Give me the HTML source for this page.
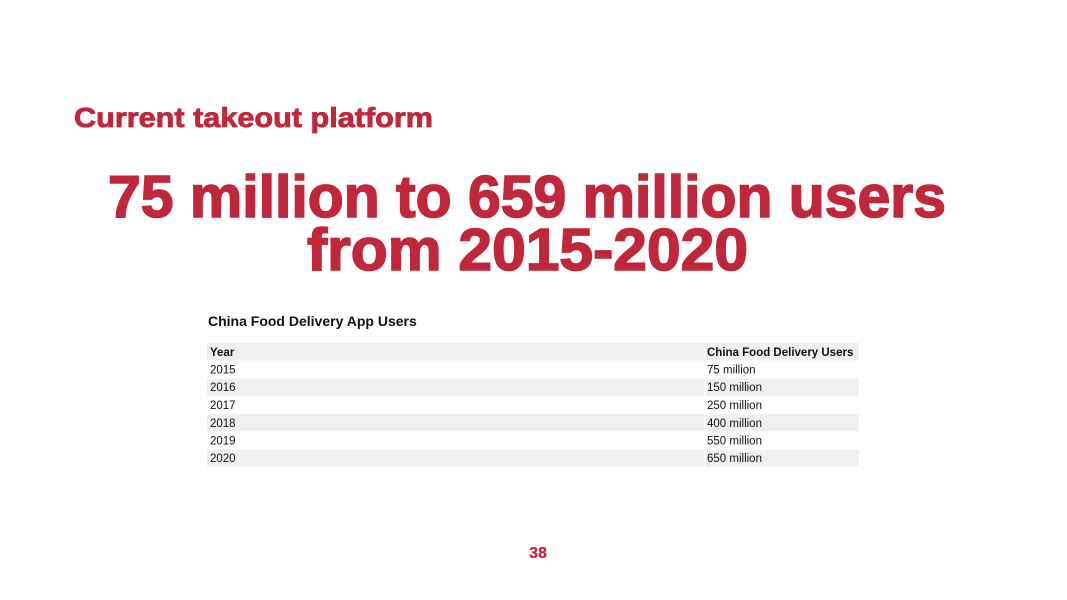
<!DOCTYPE html>
<html><head><meta charset="utf-8"><style>
body{margin:0;width:1067px;height:600px;background:#fff;overflow:hidden;font-family:"Liberation Sans",sans-serif}
</style></head><body>
<svg width="1067" height="600" xmlns="http://www.w3.org/2000/svg" style="position:absolute;left:0;top:0">
<g fill="#c1273b" stroke="#c1273b" font-family="Liberation Sans, sans-serif" font-weight="bold">
<text x="74" y="127" font-size="28" stroke-width="0.8" textLength="359" lengthAdjust="spacingAndGlyphs">Current takeout platform</text>
<text x="108" y="217" font-size="59" stroke-width="1.6" textLength="838" lengthAdjust="spacingAndGlyphs">75 million to 659 million users</text>
<text x="307" y="270" font-size="59" stroke-width="1.6" textLength="441" lengthAdjust="spacingAndGlyphs">from 2015-2020</text>
<text x="538" y="558" font-size="16" stroke-width="0.3" text-anchor="middle">38</text>
</g>
<g fill="#f0f0f0">
<rect x="207" y="343" width="652" height="17.5"/>
<rect x="207" y="378.5" width="652" height="17.5"/>
<rect x="207" y="414" width="652" height="17.5"/>
<rect x="207" y="449.5" width="652" height="17.5"/>
</g>
<rect x="704" y="343" width="1.5" height="124" fill="#fff"/>
<g font-family="Liberation Sans, sans-serif" font-size="11.5" fill="#111">
<text x="208" y="326" font-size="14" font-weight="bold">China Food Delivery App Users</text>
<text x="210" y="356" font-weight="bold">Year</text>
<text x="707" y="356" font-weight="bold">China Food Delivery Users</text>
<text x="210" y="373.5">2015</text><text x="707" y="373.5">75 million</text>
<text x="210" y="391">2016</text><text x="707" y="391">150 million</text>
<text x="210" y="409">2017</text><text x="707" y="409">250 million</text>
<text x="210" y="427">2018</text><text x="707" y="427">400 million</text>
<text x="210" y="444.5">2019</text><text x="707" y="444.5">550 million</text>
<text x="210" y="462">2020</text><text x="707" y="462">650 million</text>
</g>
</svg>
</body></html>
